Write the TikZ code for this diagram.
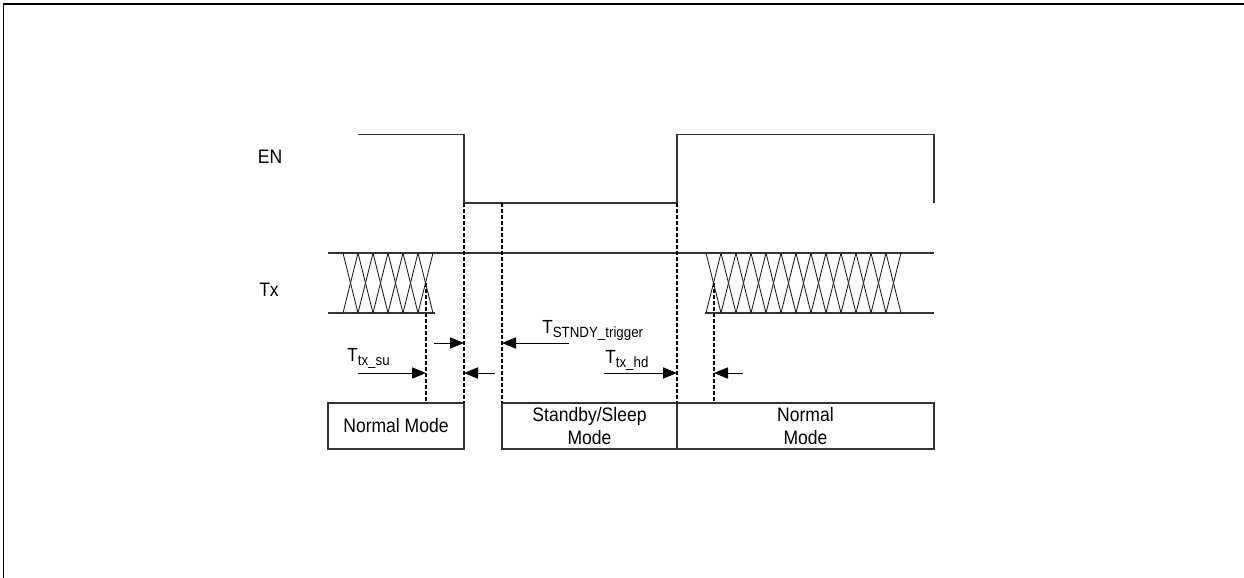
\documentclass[tikz,border=0pt]{standalone}
\usepackage{fontspec}
\setmainfont[FakeStretch=0.9]{Liberation Sans}
\usetikzlibrary{arrows.meta}
\begin{document}
\begin{tikzpicture}[x=0.5pt,y=-0.5pt,
  sig/.style={line width=0.55pt,draw=black!80},
  hatch/.style={line width=0.45pt,draw=black!85},
  dsh/.style={line width=0.7pt,dash pattern=on 2pt off 1pt},
  arr/.style={line width=0.5pt,-{Triangle[length=7pt,width=5.6pt]}},
  modebox/.style={draw=black!80,line width=0.55pt,minimum height=23pt,inner sep=0pt,outer sep=0pt,align=center,font=\fontsize{9.75}{11.5}\selectfont},
  signame/.style={font=\fontsize{9.75}{11}\selectfont,inner sep=0pt},
  tlabel/.style={inner sep=0pt,anchor=base west}]
\useasboundingbox (0,0) rectangle (1244,578);
% frame
\draw[line width=1pt] (3,3.5) -- (1244,3.5);
\draw[line width=0.65pt] (3.5,3) -- (3.5,578);
% signal names
\node[signame] (en) at (270,157) {EN};
\node[signame] (tx) at (269,290) {Tx};
% EN waveform
\draw[sig] (358,134.5) -- (464,134.5) -- (464,203) -- (677,203) -- (677,134.5) -- (934,134.5) -- (934,203);
% Tx lines
\draw[sig] (328,253) -- (934,253);
\draw[sig] (328,313) -- (435,313);
\draw[sig] (705,313) -- (934,313);
% Tx hatch left
\foreach \i in {0,...,5}{
  \pgfmathsetmacro\xa{343+15*\i}
  \pgfmathsetmacro\xb{358+15*\i}
  \draw[hatch] (\xa,253) -- (\xb,313);
  \draw[hatch] (\xa,313) -- (\xb,253);
}
% Tx hatch right
\foreach \i in {0,...,12}{
  \pgfmathsetmacro\xa{706+15*\i}
  \pgfmathsetmacro\xb{721+15*\i}
  \draw[hatch] (\xa,253) -- (\xb,313);
  \draw[hatch] (\xa,313) -- (\xb,253);
}
% mode boxes
\node[modebox,minimum width=68pt] (b1) at (396,426) {Normal Mode};
\node[modebox,minimum width=87.5pt] (b2) at (589.5,426) {Standby/Sleep\\Mode};
\node[modebox,minimum width=128.5pt] (b3) at (805.5,426) {Normal\\Mode};
% dashed markers
\coordinate (d1t) at (426,283); \coordinate (d1b) at (426,403);
\coordinate (d2t) at (464,203); \coordinate (d2b) at (464,403);
\coordinate (d3t) at (502,203); \coordinate (d3b) at (502,403);
\coordinate (d4t) at (677,203); \coordinate (d4b) at (677,403);
\coordinate (d5t) at (714,283); \coordinate (d5b) at (714,403);
\draw[dsh] (d1t) -- (d1b);
\draw[dsh] (d2t) -- (d2b);
\draw[dsh] (d3t) -- (d3b);
\draw[dsh] (d4t) -- (d4b);
\draw[dsh] (d5t) -- (d5b);
% arrows
\coordinate (a1s) at (358,373); \coordinate (a1e) at (426,373);
\coordinate (a2s) at (434,343); \coordinate (a2e) at (464,343);
\coordinate (a3s) at (495,373); \coordinate (a3e) at (464,373);
\coordinate (a4s) at (569,343); \coordinate (a4e) at (502,343);
\coordinate (a5s) at (604,373); \coordinate (a5e) at (677,373);
\coordinate (a6s) at (743,373); \coordinate (a6e) at (714,373);
\draw[arr] (a1s) -- (a1e);
\draw[arr] (a2s) -- (a2e);
\draw[arr] (a3s) -- (a3e);
\draw[arr] (a4s) -- (a4e);
\draw[arr] (a5s) -- (a5e);
\draw[arr] (a6s) -- (a6e);
% timing labels
\node[tlabel] (tsu) at (347,361) {\fontsize{9.5}{9.5}\selectfont T\raisebox{-2pt}{\fontsize{7.4}{7.4}\selectfont tx\_su}};
\node[tlabel] (tst) at (542,333) {\fontsize{9.5}{9.5}\selectfont T\raisebox{-2pt}{\fontsize{7.4}{7.4}\selectfont STNDY\_trigger}};
\node[tlabel] (thd) at (605,363) {\fontsize{9.5}{9.5}\selectfont T\raisebox{-2pt}{\fontsize{7.4}{7.4}\selectfont tx\_hd}};
\end{tikzpicture}
\end{document}
